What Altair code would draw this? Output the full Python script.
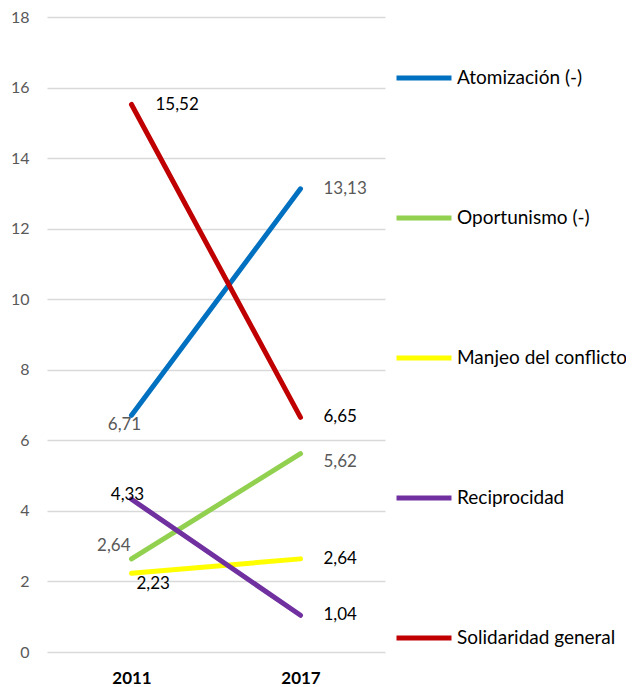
import altair as alt
import pandas as pd

years = ["2011", "2017"]
series = ["Atomización (-)", "Oportunismo (-)", "Manjeo del conflicto", "Reciprocidad", "Solidaridad general"]
values_2011 = [6.71, 2.64, 2.23, 4.33, 15.52]
values_2017 = [13.13, 5.62, 2.64, 1.04, 6.65]
colors = ["#0070C0", "#92D050", "#FFFF00", "#7030A0", "#C00000"]
y_ticks = [0, 2, 4, 6, 8, 10, 12, 14, 16, 18]

rows = []
for s, a, b in zip(series, values_2011, values_2017):
    for yr, v in zip(years, [a, b]):
        rows.append({"year": yr, "series": s, "value": v,
                     "label": f"{v:.2f}".replace(".", ",")})
df = pd.DataFrame(rows)

FONT = "Lato"
x_enc = alt.X("year:N", sort=years,
              scale=alt.Scale(type="point", padding=0.5),
              axis=alt.Axis(title=None, labelAngle=0, labelFontWeight="bold",
                            labelFontSize=17, labelColor="#000000", labelFont=FONT,
                            ticks=False, domain=False, labelPadding=18, grid=False))
y_enc = alt.Y("value:Q", scale=alt.Scale(domain=[0, 18], nice=False),
              axis=alt.Axis(title=None, values=y_ticks, labelFontSize=16,
                            labelColor="#595959", labelFont=FONT, ticks=False,
                            domain=False, labelPadding=18, gridColor="#D9D9D9",
                            gridWidth=1.5))

base = alt.Chart(df)

lines = base.mark_line(strokeWidth=5, strokeCap="round").encode(
    x=x_enc, y=y_enc,
    color=alt.Color("series:N", sort=series,
                    scale=alt.Scale(domain=series, range=colors),
                    legend=alt.Legend(title=None, orient="none", legendX=347, legendY=31,
                                      symbolType="stroke", symbolSize=3025,
                                      symbolStrokeWidth=5, labelFont=FONT,
                                      labelFontSize=19, labelColor="#000000",
                                      labelOffset=3, rowPadding=100,
                                      labelLimit=300)),
    detail="series:N",
)

gray_series = ["Atomización (-)", "Oportunismo (-)"]
text_color = alt.condition(
    alt.FieldOneOfPredicate(field="series", oneOf=gray_series),
    alt.value("#595959"), alt.value("#000000"))


def label_layer(expr, align, dx, dy):
    return base.transform_filter(expr).mark_text(
        align=align, baseline="middle", dx=dx, dy=dy, font=FONT, fontSize=17
    ).encode(x=x_enc, y=y_enc, text="label:N", color=text_color)


labels = [
    label_layer("datum.year == '2017' && datum.series != 'Oportunismo (-)'", "left", 23, 0),
    label_layer("datum.year == '2017' && datum.series == 'Oportunismo (-)'", "left", 23, 8),
    label_layer("datum.year == '2011' && datum.series == 'Solidaridad general'", "left", 24, 1),
    label_layer("datum.year == '2011' && datum.series == 'Atomización (-)'", "center", -7, 10),
    label_layer("datum.year == '2011' && datum.series == 'Reciprocidad'", "center", -4, -4),
    label_layer("datum.year == '2011' && datum.series == 'Oportunismo (-)'", "right", -1, -13),
    label_layer("datum.year == '2011' && datum.series == 'Manjeo del conflicto'", "left", 5, 11),
]

chart = alt.layer(lines, *labels).properties(
    width=338, height=635,
    autosize=alt.AutoSizeParams(type="none"),
    padding={"left": 39, "top": 9, "right": 241, "bottom": 35},
).configure_view(stroke=None)

chart.save("out.html", embed_options={"renderer": "svg", "actions": False})
